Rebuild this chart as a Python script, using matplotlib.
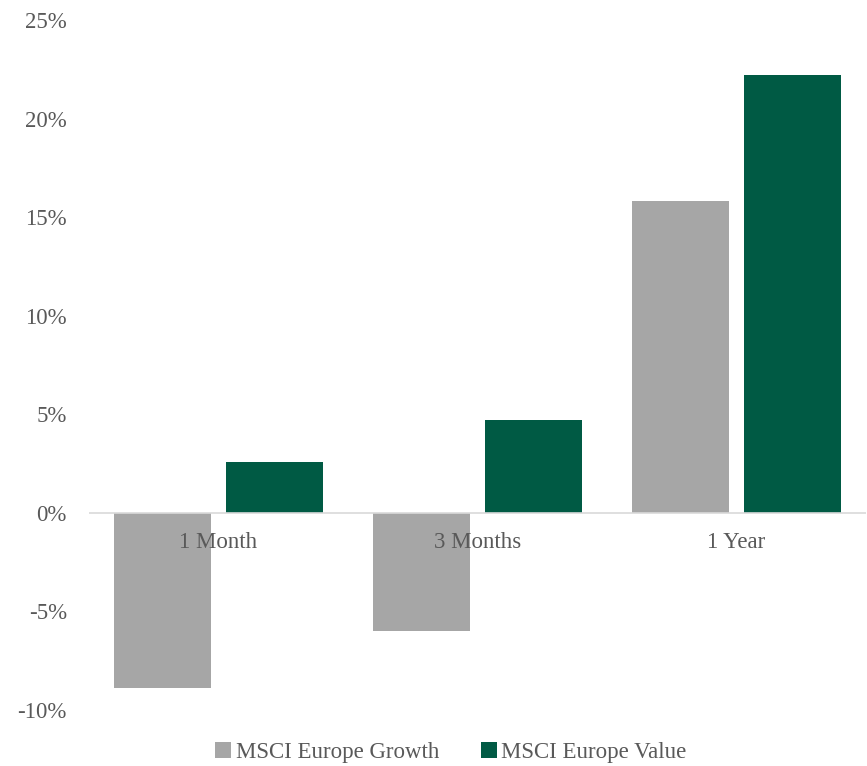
import matplotlib
matplotlib.use("Agg")
import matplotlib.pyplot as plt
from matplotlib.patches import Patch
import numpy as np

categories = ["1 Month", "3 Months", "1 Year"]
growth = [-8.9, -6.0, 15.8]
value = [2.6, 4.7, 22.2]
series_names = ["MSCI Europe Growth", "MSCI Europe Value"]
yticks = [-10, -5, 0, 5, 10, 15, 20, 25]

GREY = "#a6a6a6"
GREEN = "#005a44"
TEXT = "#595959"
plt.rcParams["font.family"] = ["Liberation Serif", "DejaVu Serif"]

fig = plt.figure(figsize=(8.67, 7.66), dpi=100, facecolor="white")
ax = fig.add_axes([0.1027, 0.0731, 0.8961, 0.9008])

x = np.arange(len(categories))
width = 0.375
offset = 0.2165
ax.bar(x - offset, growth, width, color=GREY, zorder=2)
ax.bar(x + offset, value, width, color=GREEN, zorder=2)

ax.axhline(0, color="#d9d9d9", linewidth=1.2, zorder=3)

# category labels sit just under the zero line, over the bars
for i, cat in enumerate(categories):
    ax.annotate(cat, xy=(i, 0), xytext=(0, -14), textcoords="offset points",
                ha="center", va="top", fontsize=16.5, color=TEXT, zorder=4)

ax.set_xlim(-0.5, 2.5)
ax.set_ylim(-10, 25)
ax.set_xticks([])
ax.set_yticks(yticks)
ax.set_yticklabels([f"{t}%" for t in yticks], fontsize=16.5, color=TEXT)
ax.tick_params(axis="y", length=0, pad=16)
for spine in ax.spines.values():
    spine.set_visible(False)

handles = [Patch(facecolor=GREY, label=series_names[0]),
           Patch(facecolor=GREEN, label=series_names[1])]
fig.legend(handles=handles, loc="center", bbox_to_anchor=(0.52, 0.017), ncol=2,
           frameon=False, fontsize=16.5, labelcolor=TEXT, handlelength=0.7,
           handleheight=0.7, handletextpad=0.2, columnspacing=1.8)

fig.savefig("out.png", dpi=100, facecolor="white")
